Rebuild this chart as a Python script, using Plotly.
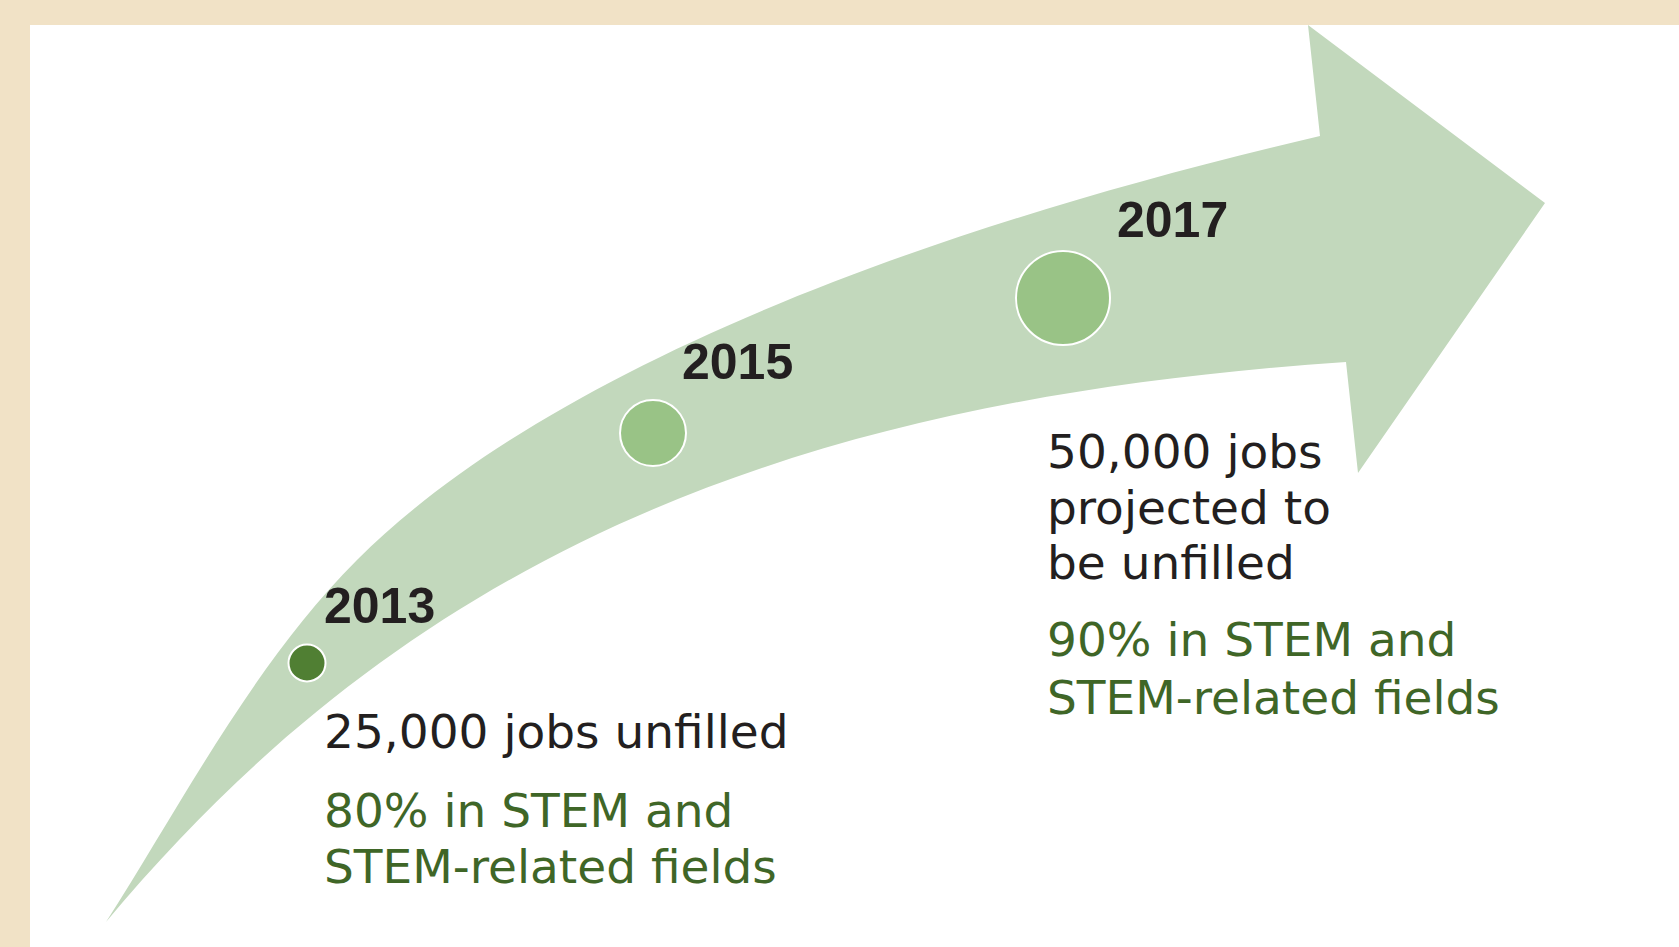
import plotly.graph_objects as go

# ---- content / data ----
years = ["2013", "2015", "2017"]
jobs_2013_lines = ["25,000 jobs unfilled"]
stem_2013_lines = ["80% in STEM and", "STEM-related fields"]
jobs_2017_lines = ["50,000 jobs", "projected to", "be unfilled"]
stem_2017_lines = ["90% in STEM and", "STEM-related fields"]

# ---- layout geometry (pixel space) ----
W, H = 1679, 947
LEFT, TOP = 30, 25

# arrow outline: tail, upper edge (two cubic segments), head, lower edge (one cubic)
tail = (106, 922)
upper_seg1 = [(184, 800), (254, 663), (357, 560)]
upper_seg2 = [(534, 383), (882, 238), (1320, 136)]
head_pts = [(1308, 25), (1545, 203), (1358, 473), (1346, 362)]
lower_seg = [(820, 398), (426, 537), (106, 922)]

def pt(p):
    return "%g,%g" % p

arrow_path = ("M " + pt(tail)
              + " C " + " ".join(pt(p) for p in upper_seg1)
              + " C " + " ".join(pt(p) for p in upper_seg2)
              + "".join(" L " + pt(p) for p in head_pts)
              + " C " + " ".join(pt(p) for p in lower_seg)
              + " Z")

dot_x = [307, 653, 1063]
dot_y = [663, 433, 298]
dot_size = [37, 66, 94]
dot_color = ["#507f33", "#99c386", "#99c386"]

year_x = [322, 680, 1115]
year_base = [623, 379, 237]

ARROW = "#c2d8bc"
BEIGE = "#f1e2c6"
DARK = "#231f20"
GREEN = "#3f6627"

fig = go.Figure()
fig.add_trace(go.Scatter(x=dot_x, y=dot_y, mode="markers",
                         marker=dict(size=dot_size, color=dot_color, opacity=1,
                                     line=dict(color="white", width=2)),
                         hoverinfo="skip", showlegend=False))

fig.add_shape(type="path", path=arrow_path, xref="x", yref="y",
              fillcolor=ARROW, line=dict(width=0), layer="below")

annotations = []

def add_text(txt, x, baseline, size, color, family, bold=False):
    annotations.append(dict(
        x=x, y=baseline - 0.347 * size, xref="x", yref="y",
        xanchor="left", yanchor="middle", showarrow=False,
        text=("<b>%s</b>" % txt) if bold else txt,
        font=dict(size=size, color=color, family=family)))

YEAR_FONT = "Liberation Sans, Arial, sans-serif"
BODY_FONT = "DejaVu Sans, sans-serif"
for yr, xx, bb in zip(years, year_x, year_base):
    add_text(yr, xx, bb, 50, DARK, YEAR_FONT, bold=True)

for i, line in enumerate(jobs_2013_lines):
    add_text(line, 322, 748 + 55 * i, 47, DARK, BODY_FONT)
for i, line in enumerate(stem_2013_lines):
    add_text(line, 322, 827 + 56 * i, 47, GREEN, BODY_FONT)
for i, line in enumerate(jobs_2017_lines):
    add_text(line, 1045, 468 + 55.5 * i, 47, DARK, BODY_FONT)
for i, line in enumerate(stem_2017_lines):
    add_text(line, 1045, 656 + 57.5 * i, 47, GREEN, BODY_FONT)

fig.update_layout(
    width=W, height=H,
    margin=dict(l=LEFT, t=TOP, r=0, b=0, pad=0),
    paper_bgcolor=BEIGE, plot_bgcolor="white",
    xaxis=dict(range=[LEFT, W], visible=False, fixedrange=True),
    yaxis=dict(range=[H, TOP], visible=False, fixedrange=True),
    annotations=annotations,
    showlegend=False,
)

fig.write_html("out.html", config={"displayModeBar": False},
               post_script="document.body.style.margin='0';document.body.style.overflow='hidden';")
